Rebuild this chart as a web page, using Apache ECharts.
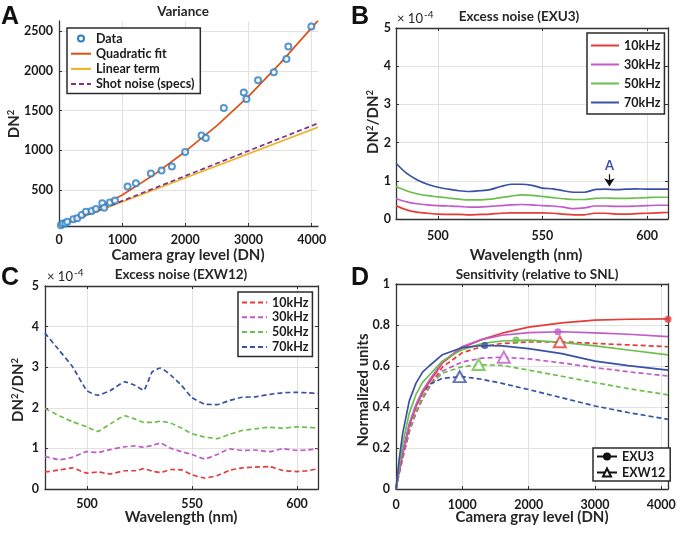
<!DOCTYPE html>
<html><head><meta charset="utf-8">
<script src="https://cdn.jsdelivr.net/npm/echarts@6/dist/echarts.min.js"></script>
<style>html,body{margin:0;padding:0;background:#fff}#c{width:680px;height:533px}</style>
</head><body><div id="c"></div>
<script>
// ---------- Panel A : Variance ----------
const aDataX = [30,58,100,131,226,289,359,427,517,585,685,716,806,885,1086,1217,1455,1623,1787,1997,2256,2324,2609,2925,2967,3151,3400,3600,3631,3995];
const aDataY = [55,78,75,99,129,142,183,225,234,259,332,276,340,365,542,585,706,744,795,977,1187,1154,1534,1728,1648,1884,1985,2150,2307,2560];
const aFitX  = [0,500,1000,1500,2000,2500,3000,3500,4100];
const aQuadY = [45,220,437,690,985,1310,1680,2095,2635];
const aLineX = [0,4100];
const aLinY  = [45,1290];
const aShotY = [45,1340];
const aLegend = ['Data','Quadratic fit','Linear term','Shot noise (specs)'];
const aXTicks = [0,1000,2000,3000,4000];
const aYTicks = [500,1000,1500,2000,2500];

// ---------- Panel B : Excess noise (EXU3) ----------
const bX   = [480,485,490,495,500,505,510,515,520,525,530,535,540,545,550,555,560,565,570,575,580,585,590,595,600,605,610];
const b10  = [0.35,0.24,0.18,0.15,0.13,0.12,0.12,0.11,0.12,0.13,0.15,0.16,0.16,0.16,0.16,0.15,0.13,0.11,0.11,0.15,0.15,0.13,0.13,0.14,0.15,0.16,0.17];
const b30  = [0.53,0.45,0.40,0.37,0.35,0.34,0.33,0.31,0.31,0.33,0.35,0.37,0.38,0.37,0.35,0.34,0.31,0.27,0.29,0.34,0.34,0.33,0.33,0.34,0.35,0.36,0.36];
const b50  = [0.85,0.74,0.66,0.61,0.58,0.55,0.52,0.50,0.50,0.52,0.56,0.60,0.63,0.62,0.59,0.56,0.53,0.51,0.51,0.54,0.55,0.54,0.54,0.55,0.56,0.57,0.57];
const b70  = [1.46,1.20,1.03,0.91,0.83,0.78,0.74,0.72,0.74,0.77,0.85,0.91,0.91,0.88,0.81,0.79,0.74,0.70,0.70,0.77,0.78,0.77,0.78,0.79,0.78,0.78,0.78];
const freqLabels = ['10kHz','30kHz','50kHz','70kHz'];
const wlTicks = [500,550,600];
const noiseTicks = [0,1,2,3,4,5];
const annotX = 582, annotTextY = 1.39, arrowTopY = 1.17, arrowTipY = 0.86;

// ---------- Panel C : Excess noise (EXW12) ----------
const cX  = [480,487,493,500,505,511,518,523,527,531,535,540,545,550,556,562,568,574,580,587,593,600,605,610];
const c10 = [0.42,0.47,0.52,0.39,0.42,0.37,0.45,0.45,0.50,0.44,0.41,0.48,0.47,0.35,0.27,0.33,0.46,0.52,0.54,0.55,0.46,0.43,0.45,0.50];
const c30 = [0.80,0.72,0.78,0.92,0.90,0.97,1.04,1.06,1.03,1.07,1.13,1.00,0.92,0.85,0.74,0.85,0.99,0.95,0.96,0.92,0.99,0.95,0.96,0.99];
const c50 = [1.98,1.80,1.66,1.53,1.42,1.60,1.80,1.72,1.64,1.64,1.67,1.62,1.50,1.36,1.28,1.24,1.35,1.44,1.48,1.52,1.50,1.53,1.52,1.50];
const c70 = [3.84,3.40,3.02,2.42,2.31,2.42,2.64,2.55,2.43,2.88,2.98,2.80,2.55,2.25,2.09,2.08,2.18,2.26,2.27,2.33,2.37,2.38,2.37,2.35];

// ---------- Panel D : Sensitivity ----------
const dX   = [0,50,100,200,300,400,500,700,1000,1300,1600,2000,2500,3000,3500,4100];
const dU10 = [0,0.09,0.17,0.31,0.40,0.47,0.52,0.615,0.69,0.73,0.76,0.79,0.81,0.824,0.828,0.83];
const dU30 = [0,0.10,0.18,0.32,0.41,0.48,0.53,0.62,0.695,0.73,0.75,0.763,0.767,0.762,0.755,0.743];
const dU50 = [0,0.12,0.22,0.37,0.46,0.52,0.555,0.625,0.68,0.71,0.722,0.726,0.715,0.698,0.678,0.654];
const dU70 = [0,0.15,0.27,0.43,0.515,0.57,0.60,0.655,0.69,0.70,0.698,0.685,0.66,0.624,0.602,0.58];
const dW10 = [0,0.08,0.15,0.28,0.37,0.44,0.50,0.595,0.665,0.695,0.71,0.717,0.718,0.71,0.703,0.694];
const dW30 = [0,0.08,0.15,0.28,0.37,0.44,0.495,0.575,0.62,0.638,0.643,0.635,0.615,0.592,0.572,0.551];
const dW50 = [0,0.085,0.16,0.29,0.38,0.45,0.505,0.565,0.597,0.606,0.603,0.58,0.55,0.519,0.49,0.459];
const dW70 = [0,0.09,0.17,0.31,0.41,0.47,0.51,0.54,0.548,0.535,0.515,0.485,0.445,0.405,0.373,0.34];
const exu3PeakX = [4100,2440,1810,1340];
const exu3PeakY = [0.828,0.767,0.727,0.70];
const exw12PeakX = [2470,1625,1245,960];
const exw12PeakY = [0.718,0.643,0.607,0.548];
const dLegend = ['EXU3','EXW12'];
const dXTicks = [0,1000,2000,3000,4000];
const dYTicks = [0,0.2,0.4,0.6,0.8,1];

// ---------- styles ----------
const F = 'Lato, "Open Sans", sans-serif';
const TXT = '#262626';
const COLS = ['#e63b3b','#c25ac8','#6cbf4c','#3a52a4'];
const zip = (xs, ys) => xs.map((x, i) => [x, ys[i]]);
const gridLine = {show:true, lineStyle:{color:'#e2e2e2', width:1}};
const axLine = {show:true, onZero:false, lineStyle:{color:'#333', width:1.3}};
const tick = v => ({show:true, inside:true, length:3, customValues:v, lineStyle:{color:'#333', width:1}});
const lab = (v, m) => ({show:true, customValues:v, margin:m, formatter: val => String(val), fontFamily:F, fontSize:12.5, fontWeight:'bold', color:'#1a1a1a'});
const bx = (g, min, max, v, m) => ({type:'value', gridIndex:g, min, max, axisLine:axLine, axisTick:tick(v), axisLabel:lab(v, m), splitLine:gridLine});
const box = (g, min, max, v, pos) => ({type:'value', gridIndex:g, min, max, position:pos, axisLine:axLine, axisTick:tick(v), axisLabel:{show:false}, splitLine:{show:false}});

const lineS = (name, xi, xs, ys, color, dashed, smooth) => ({
  type:'line', name, xAxisIndex:xi, yAxisIndex:xi, data: zip(xs, ys), showSymbol:false, symbol:'circle',
  smooth: smooth,
  lineStyle:{color, width:1.7, type: dashed ? [5,3] : 'solid'}, itemStyle:{color}, silent:true, z:2
});

const series = [];
// A
series.push(lineS(aLegend[2], 0, aLineX, aLinY, '#edb120', false, false));
series.push(lineS(aLegend[3], 0, aLineX, aShotY, '#7e2f8e', true, false));
series.push(lineS(aLegend[1], 0, aFitX, aQuadY, '#d95319', false, false));
series.push({type:'scatter', name:aLegend[0], xAxisIndex:0, yAxisIndex:0, data: zip(aDataX, aDataY),
  symbol:'emptyCircle', symbolSize:6, itemStyle:{color:'#2b7dc2', borderWidth:1.5}, z:5, silent:true});
// B
[b10,b30,b50,b70].forEach((ys, i) => series.push(lineS('B:' + freqLabels[i], 1, bX, ys, COLS[i], false, 0.3)));
const b70s = series[series.length - 1];
b70s.markLine = {silent:true, symbol:['none','arrow'], symbolSize:8, label:{show:false},
  lineStyle:{color:'#111', width:1.2, type:'solid'},
  data:[[{coord:[annotX, arrowTopY]}, {coord:[annotX, arrowTipY]}]]};
b70s.markPoint = {silent:true, symbol:'circle', symbolSize:2, itemStyle:{color:'rgba(0,0,0,0)'},
  label:{show:true, position:'inside', formatter:'A', color:'#3a52a4', fontFamily:F, fontSize:13, fontWeight:'bold'},
  data:[{coord:[annotX, annotTextY]}]};
// C
[c10,c30,c50,c70].forEach((ys, i) => series.push(lineS('C:' + freqLabels[i], 2, cX, ys, COLS[i], true, 0.15)));
// D
[dW10,dW30,dW50,dW70].forEach((ys, i) => series.push(lineS('DW' + i, 3, dX, ys, COLS[i], true, false)));
[dU10,dU30,dU50,dU70].forEach((ys, i) => series.push(lineS('DU' + i, 3, dX, ys, COLS[i], false, false)));
series.push({type:'scatter', name:'exu3peaks', xAxisIndex:3, yAxisIndex:3, clip:false, silent:true, z:6,
  symbol:'circle', symbolSize:7,
  data: exu3PeakX.map((x, i) => ({value:[x, exu3PeakY[i]], itemStyle:{color:COLS[i]}}))});
series.push({type:'scatter', name:'exw12peaks', xAxisIndex:3, yAxisIndex:3, clip:false, silent:true, z:6,
  symbol:'emptyTriangle', symbolSize:[12,11],
  data: exw12PeakX.map((x, i) => ({value:[x, exw12PeakY[i]], itemStyle:{color:COLS[i], borderColor:COLS[i], borderWidth:1.8}}))});
series.push({type:'line', name:dLegend[0], xAxisIndex:3, yAxisIndex:3, data:[], symbol:'circle', symbolSize:5,
  lineStyle:{color:'#111', width:1.5}, itemStyle:{color:'#111'}});
series.push({type:'line', name:dLegend[1], xAxisIndex:3, yAxisIndex:3, data:[], symbol:'emptyTriangle', symbolSize:8,
  lineStyle:{color:'#111', width:1.5}, itemStyle:{color:'#111'}});

const legText = {fontFamily:F, fontSize:12.5, fontWeight:'bold', color:'#1a1a1a'};
const legBase = {orient:'vertical', selectedMode:false, borderColor:'#2a2a2a', borderWidth:1.5, backgroundColor:'#fff', textStyle:legText, borderRadius:0};
const legend = [
  Object.assign({}, legBase, {left:67, top:28, itemWidth:20, itemHeight:6, itemGap:2.2, padding:[4,6,3,3],
    itemStyle:{opacity:0},
    data:[{name:aLegend[0], itemStyle:{opacity:1}}, aLegend[1], aLegend[2], aLegend[3]]}),
  Object.assign({}, legBase, {left:587, top:33, itemWidth:28, itemHeight:10, itemGap:6, padding:[6,4,5,3],
    itemStyle:{opacity:0}, formatter: n => n.split(':')[1],
    data: freqLabels.map(l => 'B:' + l)}),
  Object.assign({}, legBase, {left:238, top:292, itemWidth:25, itemHeight:10, itemGap:1.8, padding:[4,4,3,3],
    itemStyle:{opacity:0}, formatter: n => n.split(':')[1],
    data: freqLabels.map(l => 'C:' + l)}),
  Object.assign({}, legBase, {left:593, top:448, itemWidth:20, itemHeight:10, itemGap:3, padding:[2,5,2,3],
    data: dLegend})
];

function T(x, y, text, size, weight, extra) {
  return Object.assign({type:'text', x, y, silent:true, style:{text, fontFamily:F, fontSize:size, fontWeight:weight, fill:TXT, align:'center', verticalAlign:'middle'}}, extra || {});
}
const supRich = (size) => ({
  m:{fontFamily:F, fontSize:size, fontWeight:'bold', fill:TXT},
  s:{fontFamily:F, fontSize:9.5, fontWeight:'bold', fill:TXT, verticalAlign:'top', padding:[0,0,6,0]}
});
function R(x, y, text, size, rot) {
  return {type:'text', x, y, rotation: rot, silent:true,
    style:{text, rich: supRich(size), align:'center', verticalAlign:'middle', fontFamily:F, fontSize:size, fontWeight:'bold', fill:TXT}};
}
const letter = (x, y, t) => ({type:'text', x, y, silent:true, style:{text:t, fontFamily:'"Liberation Sans", Arial, sans-serif', fontSize:25, fontWeight:'bold', fill:'#111', align:'left', verticalAlign:'middle'}});
const expo = (x, y) => ({type:'text', x, y, silent:true, style:{text:'{a|× 10}{b|-4}', align:'left', verticalAlign:'middle',
  rich:{a:{fontFamily:F, fontSize:13, fill:TXT}, b:{fontFamily:F, fontSize:10, fill:TXT, verticalAlign:'top', padding:[0,0,8,1]}}}});

const graphic = [
  letter(1, 17, 'A'), letter(351, 17, 'B'), letter(1, 278, 'C'), letter(351, 278, 'D'),
  T(183, 12, 'Variance', 13.5, 'bold'),
  T(519, 17, 'Excess noise (EXU3)', 13.5, 'bold'),
  T(181, 275, 'Excess noise (EXW12)', 13.5, 'bold'),
  T(537, 275, 'Sensitivity (relative to SNL)', 13.5, 'bold'),
  T(188, 255, 'Camera gray level (DN)', 15, 'bold'),
  T(526, 255, 'Wavelength (nm)', 15, 'bold'),
  T(181, 517, 'Wavelength (nm)', 15, 'bold'),
  T(532, 517, 'Camera gray level (DN)', 15, 'bold'),
  T(363, 390, 'Normalized units', 15, 'bold', {rotation: Math.PI / 2}),
  R(14, 124, '{m|DN}{s|2}', 15, Math.PI / 2),
  R(373, 122, '{m|DN}{s|2}{m|/DN}{s|2}', 15, Math.PI / 2),
  R(18, 390, '{m|DN}{s|2}{m|/DN}{s|2}', 15, Math.PI / 2),
  expo(397, 19), expo(47, 277)
];

const option = {
  animation:false,
  backgroundColor:'#fff',
  grid:[
    {left:59, top:21, width:259, height:205},
    {left:396, top:28, width:272, height:191},
    {left:45, top:286, width:273, height:203},
    {left:396, top:284, width:272, height:205}
  ],
  xAxis:[
    bx(0, 0, 4100, aXTicks, 7),
    bx(1, 480, 610, wlTicks, 10),
    bx(2, 480, 610, wlTicks, 8),
    bx(3, 0, 4100, dXTicks, 9),
    box(1, 480, 610, wlTicks, 'top'),
    box(2, 480, 610, wlTicks, 'top'),
    box(3, 0, 4100, dXTicks, 'top')
  ],
  yAxis:[
    bx(0, 45, 2630, aYTicks, 6),
    bx(1, 0, 5, noiseTicks, 5),
    bx(2, 0, 5, noiseTicks, 6),
    bx(3, 0, 1, dYTicks, 6),
    box(1, 0, 5, noiseTicks, 'right'),
    box(2, 0, 5, noiseTicks, 'right'),
    box(3, 0, 1, dYTicks, 'right')
  ],
  legend,
  graphic,
  series
};
const chart = echarts.init(document.getElementById('c'), null, {renderer:'canvas'});
chart.setOption(option);
</script></body></html>
